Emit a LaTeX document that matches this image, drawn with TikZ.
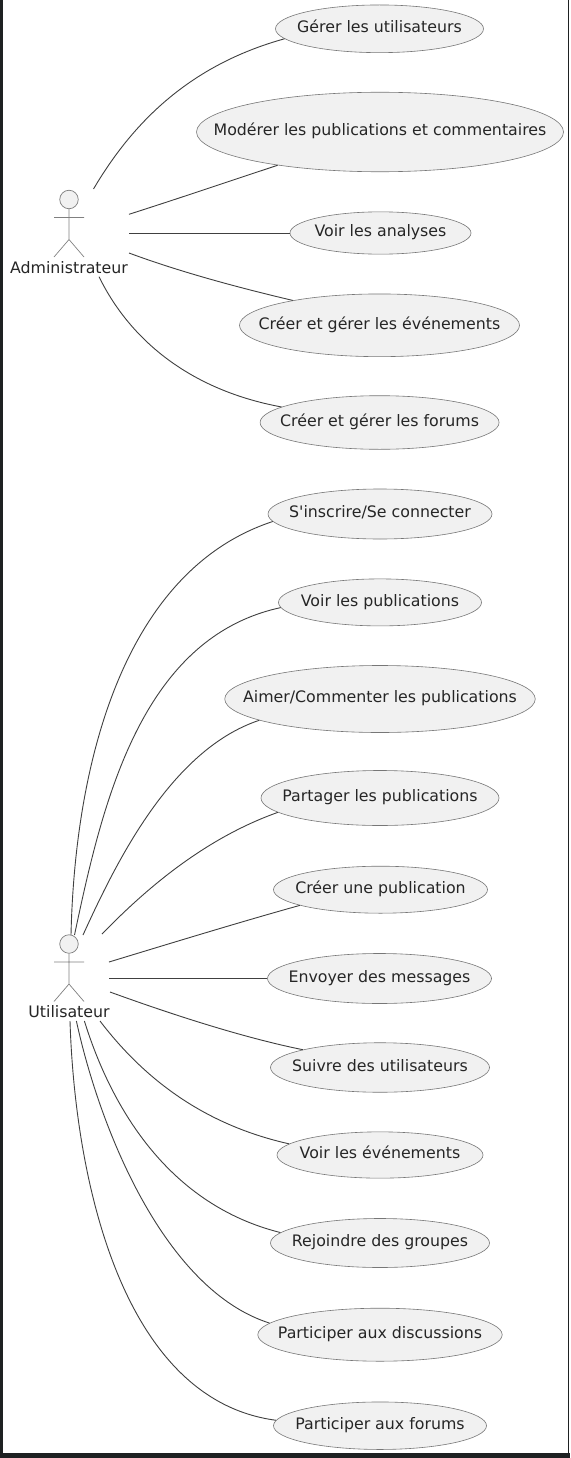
\documentclass[tikz,border=0pt]{standalone}
\usepackage{fontspec}
\setmainfont{DejaVu Sans}[Ligatures=TeXOff]
\usetikzlibrary{shapes.geometric}
\definecolor{uc}{HTML}{F1F1F1}
\definecolor{edge}{HTML}{555555}
\definecolor{frame}{HTML}{1E2122}
\tikzset{
  usecase/.style={ellipse,draw=edge!80,fill=uc,line width=.6pt,inner sep=0pt,font=\fontsize{15.8}{18}\selectfont,text=black!85},
  actorline/.style={draw=black!50,line width=.7pt,fill=uc},
  link/.style={draw=black!75,line width=.9pt},
  actorlabel/.style={font=\fontsize{15.8}{18}\selectfont,text=black!85,inner sep=0pt}
}
\newcommand{\ucase}[6]{\node[usecase,minimum width=#4pt,minimum height=#5pt] (#1) at (#2pt,-#3pt) {\makebox[0pt]{\smash{\raisebox{-.24em}{#6}}}};}
\newcommand{\actor}[4]{%
  \node[circle,actorline,minimum size=18.5pt,inner sep=0pt] (#1h) at (#2pt,-#3pt) {};
  \coordinate (#1b) at (#2pt,-#3pt-40pt);
  \coordinate (#1al) at (#2pt-15pt,-#3pt-18pt);
  \coordinate (#1ar) at (#2pt+15pt,-#3pt-18pt);
  \coordinate (#1ll) at (#2pt-15pt,-#3pt-57.5pt);
  \coordinate (#1lr) at (#2pt+15pt,-#3pt-57.5pt);
  \draw[actorline,fill=none] (#1h.south) -- (#1b) (#1al) -- (#1ar) (#1ll) -- (#1b) -- (#1lr);
  \node[actorlabel] (#1t) at (#2pt,-#3pt-68pt) {#4};}
\begin{document}
\begin{tikzpicture}[x=1pt,y=-1pt]
\useasboundingbox (0,0) rectangle (570,1458);
\fill[frame] (0,0) rectangle (570,1458);
\fill[white] (3,0) rectangle (570,1453);
\fill[frame] (568,0) rectangle (569.3,1453);

\ucase{u1}{379.5}{28.8}{208}{47.7}{Gérer les utilisateurs}
\ucase{u2}{380}{132}{367}{79.5}{Modérer les publications et commentaires}
\ucase{u3}{380.5}{233}{181}{42.3}{Voir les analyses}
\ucase{u4}{379.5}{325.3}{280}{62.7}{Créer et gérer les événements}
\ucase{u5}{379.6}{422.5}{239}{53.6}{Créer et gérer les forums}
\ucase{u6}{380}{514}{224}{50}{S'inscrire/Se connecter}
\ucase{u7}{380}{602.4}{203}{47}{Voir les publications}
\ucase{u8}{380}{699}{310.5}{67}{Aimer/Commenter les publications}
\ucase{u9}{380}{798}{238}{55}{Partager les publications}
\ucase{u10}{380.5}{889.7}{214}{47}{Créer une publication}
\ucase{u11}{379.5}{978.5}{224}{50}{Envoyer des messages}
\ucase{u12}{380}{1067.5}{219}{49.5}{Suivre des utilisateurs}
\ucase{u13}{380}{1155}{206}{46.3}{Voir les événements}
\ucase{u14}{380}{1243}{219}{49}{Rejoindre des groupes}
\ucase{u15}{380}{1334.7}{244.4}{53}{Participer aux discussions}
\ucase{u16}{380}{1425.7}{213}{47.5}{Participer aux forums}

\actor{A}{69}{199.5}{Administrateur}
\actor{U}{69}{944}{Utilisateur}

\coordinate (a1) at (93.5,189);
\coordinate (a2) at (129,214.3);
\coordinate (a3) at (129,233);
\coordinate (a4) at (129,253);
\coordinate (a5) at (99,276.7);
\coordinate (t1) at (71,935);
\coordinate (t2) at (74.5,935);
\coordinate (t3) at (83,935);
\coordinate (t4) at (102,934);
\coordinate (r1) at (109,962);
\coordinate (r2) at (109,978.5);
\coordinate (r3) at (110,992);
\coordinate (b1) at (70,1021);
\coordinate (b2) at (76.4,1021);
\coordinate (b3) at (84.4,1021);
\coordinate (b4) at (100,1021);

\draw[link] (a1) .. controls (133,122) and (190,65) .. (u1.186);
\draw[link] (a2) .. controls (180,198) and (230,181) .. (u2.198);
\draw[link] (a3) -- (u3.west);
\draw[link] (a4) .. controls (180,272) and (240,288) .. (u4.164.5);
\draw[link] (a5) .. controls (130,340) and (190,390) .. (u5.171.3);

\draw[link] (t1) .. controls (75,760) and (125,570) .. (u6.184);
\draw[link] (t2) .. controls (102,805) and (140,638) .. (u7.183);
\draw[link] (t3) .. controls (115,865) and (170,750) .. (u8.190);
\draw[link] (t4) .. controls (140,895) and (200,840) .. (u9.188.7);
\draw[link] (r1) .. controls (165,945) and (240,922) .. (u10.191.7);
\draw[link] (r2) -- (u11.west);
\draw[link] (r3) .. controls (165,1012) and (240,1037) .. (u12.167.8);
\draw[link] (b4) .. controls (145,1080) and (205,1125) .. (u13.173);
\draw[link] (b3) .. controls (112,1110) and (170,1205) .. (u14.174);
\draw[link] (b2) .. controls (100,1130) and (165,1290) .. (u15.174);
\draw[link] (b1) .. controls (75,1180) and (122,1400) .. (u16.177);
\end{tikzpicture}
\end{document}
